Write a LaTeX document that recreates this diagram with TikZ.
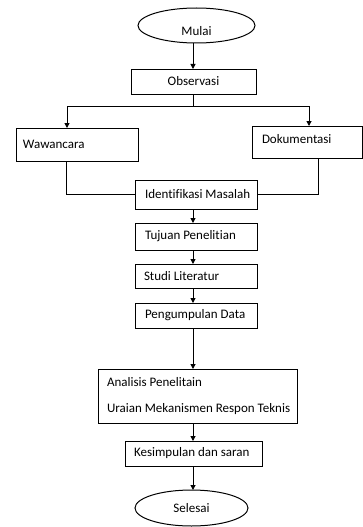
\documentclass[tikz,border=0pt]{standalone}
\usepackage{fontspec}
\setmainfont{Carlito}[Ligatures=NoCommon]
\usetikzlibrary{arrows.meta,shapes.geometric}
\newcommand{\lbox}[2]{\makebox[#1][l]{#2}}
\begin{document}
\begin{tikzpicture}[x=1pt,y=-1pt,
  every node/.style={font=\fontsize{13}{15.6}\selectfont, outer sep=0pt},
  pbox/.style={draw, rectangle, line width=1pt, anchor=north west, inner ysep=0pt, inner xsep=9pt, align=left},
  term/.style={draw, ellipse, line width=1pt, inner sep=0pt},
  arr/.style={line width=1pt, -{Triangle[length=5pt,width=5pt]}},
  ln/.style={line width=1pt}]
\fill[white] (0,0) rectangle (363,527);
\useasboundingbox (0,0) rectangle (363,527);

\coordinate (ax) at (193,0);
\coordinate (wx) at (67,0);
\coordinate (wb) at (66,0);
\coordinate (dax) at (309,0);
\coordinate (dbx) at (318,0);
\coordinate (split) at (193,106);

\node[term, minimum width=117pt, minimum height=35pt, text height=20pt] (mul) at (196.5,25.5) {Mulai};
\node[pbox, minimum width=125pt, minimum height=25pt, align=center] (obs) at (131,69) {\makebox[107pt][c]{Observasi}};
\node[pbox, minimum width=122pt, minimum height=33pt, inner xsep=7pt] (waw) at (16,128) {\lbox{108pt}{Wawancara}};
\node[pbox, minimum width=110pt, minimum height=32pt, inner xsep=10pt, text depth=6pt] (dok) at (252,126) {\lbox{90pt}{Dokumentasi}};
\node[pbox, minimum width=122pt, minimum height=29pt, inner xsep=10pt] (idm) at (135,180) {\lbox{102pt}{Identifikasi Masalah}};
\node[pbox, minimum width=122pt, minimum height=27pt, inner xsep=10pt] (tuj) at (135,223) {\lbox{102pt}{Tujuan Penelitian}};
\node[pbox, minimum width=122pt, minimum height=24pt, inner xsep=9pt] (stu) at (135,264) {\lbox{104pt}{Studi Literatur}};
\node[pbox, minimum width=122pt, minimum height=25pt, inner xsep=10pt] (peng) at (135,303) {\lbox{102pt}{Pengumpulan Data}};
\node[pbox, minimum width=199pt, minimum height=54pt, inner xsep=9pt] (ana) at (98,369) {\lbox{181pt}{Analisis Penelitain}\\[10pt]\lbox{181pt}{Uraian Mekanismen Respon Teknis}};
\node[pbox, minimum width=137pt, minimum height=25pt, inner xsep=9pt] (kes) at (125,441) {\lbox{119pt}{Kesimpulan dan saran}};
\node[term, minimum width=113pt, minimum height=36pt] (sel) at (191.5,508) {Selesai};

\draw[arr] (mul.south -| ax) -- (obs.north -| ax);
\draw[ln] (obs.south -| ax) -- (split);
\draw[arr] (split) -| (waw.north -| wx);
\draw[arr] (split) -| (dok.north -| dax);
\draw[ln] (waw.south -| wb) |- (idm.west);
\draw[ln] (dok.south -| dbx) |- (idm.east);
\draw[arr] (idm.south -| ax) -- (tuj.north -| ax);
\draw[arr] (tuj.south -| ax) -- (stu.north -| ax);
\draw[arr] (stu.south -| ax) -- (peng.north -| ax);
\draw[arr] (peng.south -| ax) -- (ana.north -| ax);
\draw[arr] (ana.south -| ax) -- (kes.north -| ax);
\draw[arr] (kes.south -| ax) -- (sel.north -| ax);
\end{tikzpicture}
\end{document}
